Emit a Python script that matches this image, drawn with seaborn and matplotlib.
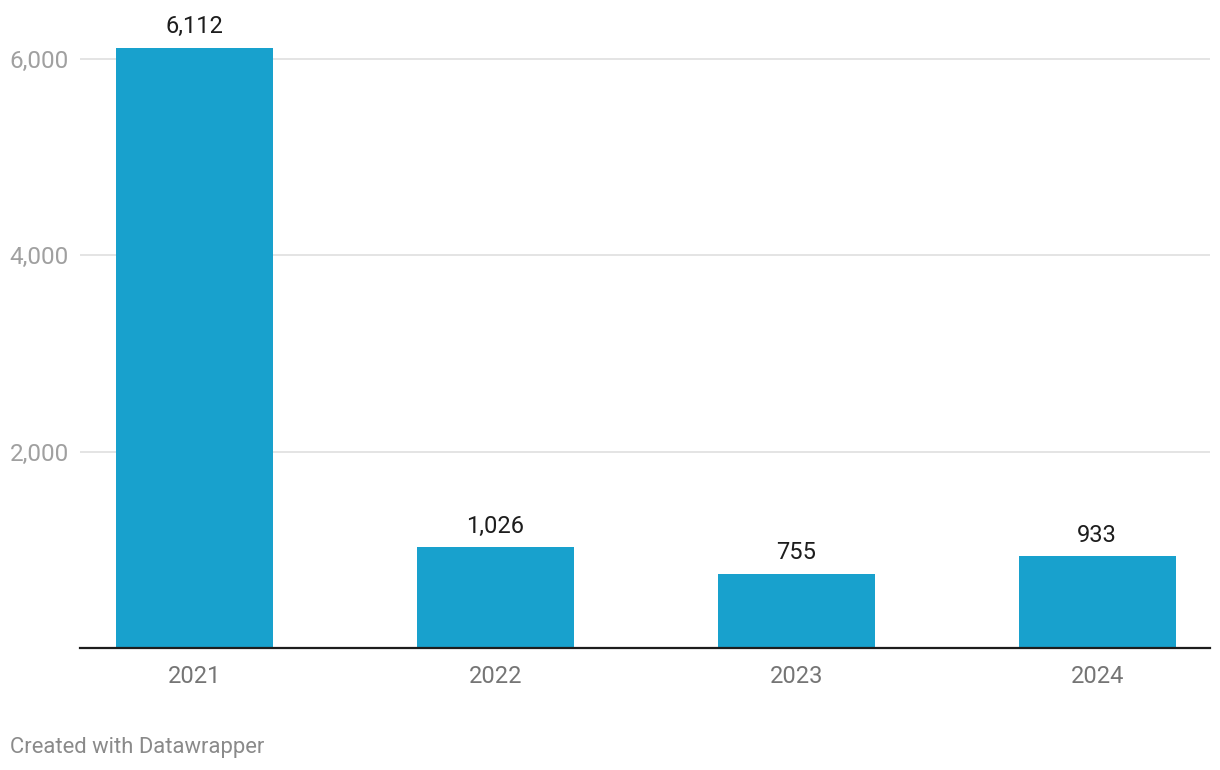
import numpy as np
import pandas as pd
import seaborn as sns
from matplotlib import pyplot as plt
from matplotlib.ticker import FuncFormatter

# data
years = ["2021", "2022", "2023", "2024"]
values = [6112, 1026, 755, 933]
y_ticks = [2000, 4000, 6000]

BAR_COLOR = "#18a1cd"

sns.set_theme(style="white")
plt.rcParams["font.family"] = ["Roboto", "DejaVu Sans"]

df = pd.DataFrame({"year": years, "value": values})

fig = plt.figure(figsize=(12.2, 7.7), dpi=100)
ax = fig.add_axes([80 / 1220, 1 - 648 / 770, 1130 / 1220, 638 / 770])

sns.barplot(data=df, x="year", y="value", color=BAR_COLOR, width=0.522,
            saturation=1, linewidth=0, ax=ax, zorder=3)

ax.set_xlim(-0.38, 3.375)
ax.set_ylim(0, 6500)
ax.set_yticks(y_ticks)
ax.yaxis.set_major_formatter(FuncFormatter(lambda v, _: f"{int(v):,}"))
ax.grid(axis="y", color="#e2e2e2", linewidth=1.3, zorder=0)
ax.set_axisbelow(True)

for s in ["top", "right", "left"]:
    ax.spines[s].set_visible(False)
ax.spines["bottom"].set_color("#1d1d1d")
ax.spines["bottom"].set_linewidth(1.6)
ax.spines["bottom"].set_zorder(5)

ax.tick_params(axis="y", length=0, pad=8, labelsize=17.5, labelcolor="#a0a0a0")
ax.tick_params(axis="x", length=0, pad=12.5, labelsize=17, labelcolor="#757575")
ax.set_xlabel("")
ax.set_ylabel("")

# value labels above bars
for i, v in enumerate(values):
    ax.annotate(f"{v:,}", (i, v), xytext=(0, 7), textcoords="offset points",
                ha="center", va="bottom", fontsize=17, color="#1d1d1d")

fig.text(10 / 1220, 1 - 748 / 770, "Created with Datawrapper", ha="left",
         va="center", fontsize=15.8, color="#8a8a8a")

fig.savefig("out.png", dpi=100)
